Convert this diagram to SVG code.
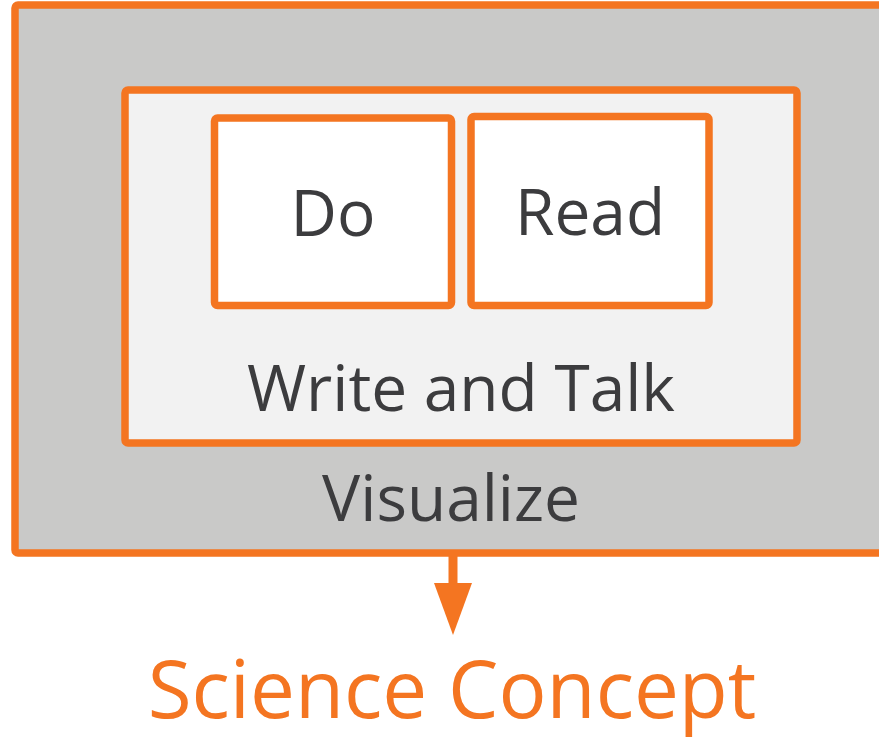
<svg xmlns="http://www.w3.org/2000/svg" width="879" height="738" viewBox="0 0 879 738">
<style>
.box{stroke:#f47521;stroke-width:7.5;stroke-linejoin:round}
.lbl{font-family:"Open Sans","DejaVu Sans",sans-serif;font-size:64px;fill:#3c3c3e;text-anchor:middle}
.out{font-family:"Open Sans","DejaVu Sans",sans-serif;font-size:80px;fill:#f47521;text-anchor:middle}
</style>
<rect width="879" height="738" fill="#ffffff"/>
<g id="visualize">
<rect class="box" x="15" y="5" width="880" height="548" rx="3" fill="#c9c9c8"/>
<text class="lbl" x="451" y="521">Visualize</text>
</g>
<g id="write-and-talk">
<rect class="box" x="125" y="90" width="672" height="353" rx="3" fill="#f2f2f2"/>
<text class="lbl" x="461" y="411">Write and Talk</text>
</g>
<g id="do">
<rect class="box" x="214.5" y="118" width="237" height="187.5" rx="3" fill="#ffffff"/>
<text class="lbl" x="333" y="236">Do</text>
</g>
<g id="read">
<rect class="box" x="471" y="116.5" width="238" height="189" rx="3" fill="#ffffff"/>
<text class="lbl" x="590" y="235">Read</text>
</g>
<g id="connectors">
<line x1="453" y1="556" x2="453" y2="586" stroke="#f47521" stroke-width="9"/>
<polygon points="434,583 472,583 453,635" fill="#f47521"/>
</g>
<g id="science-concept">
<text class="out" x="452" y="718">Science Concept</text>
</g>
</svg>
